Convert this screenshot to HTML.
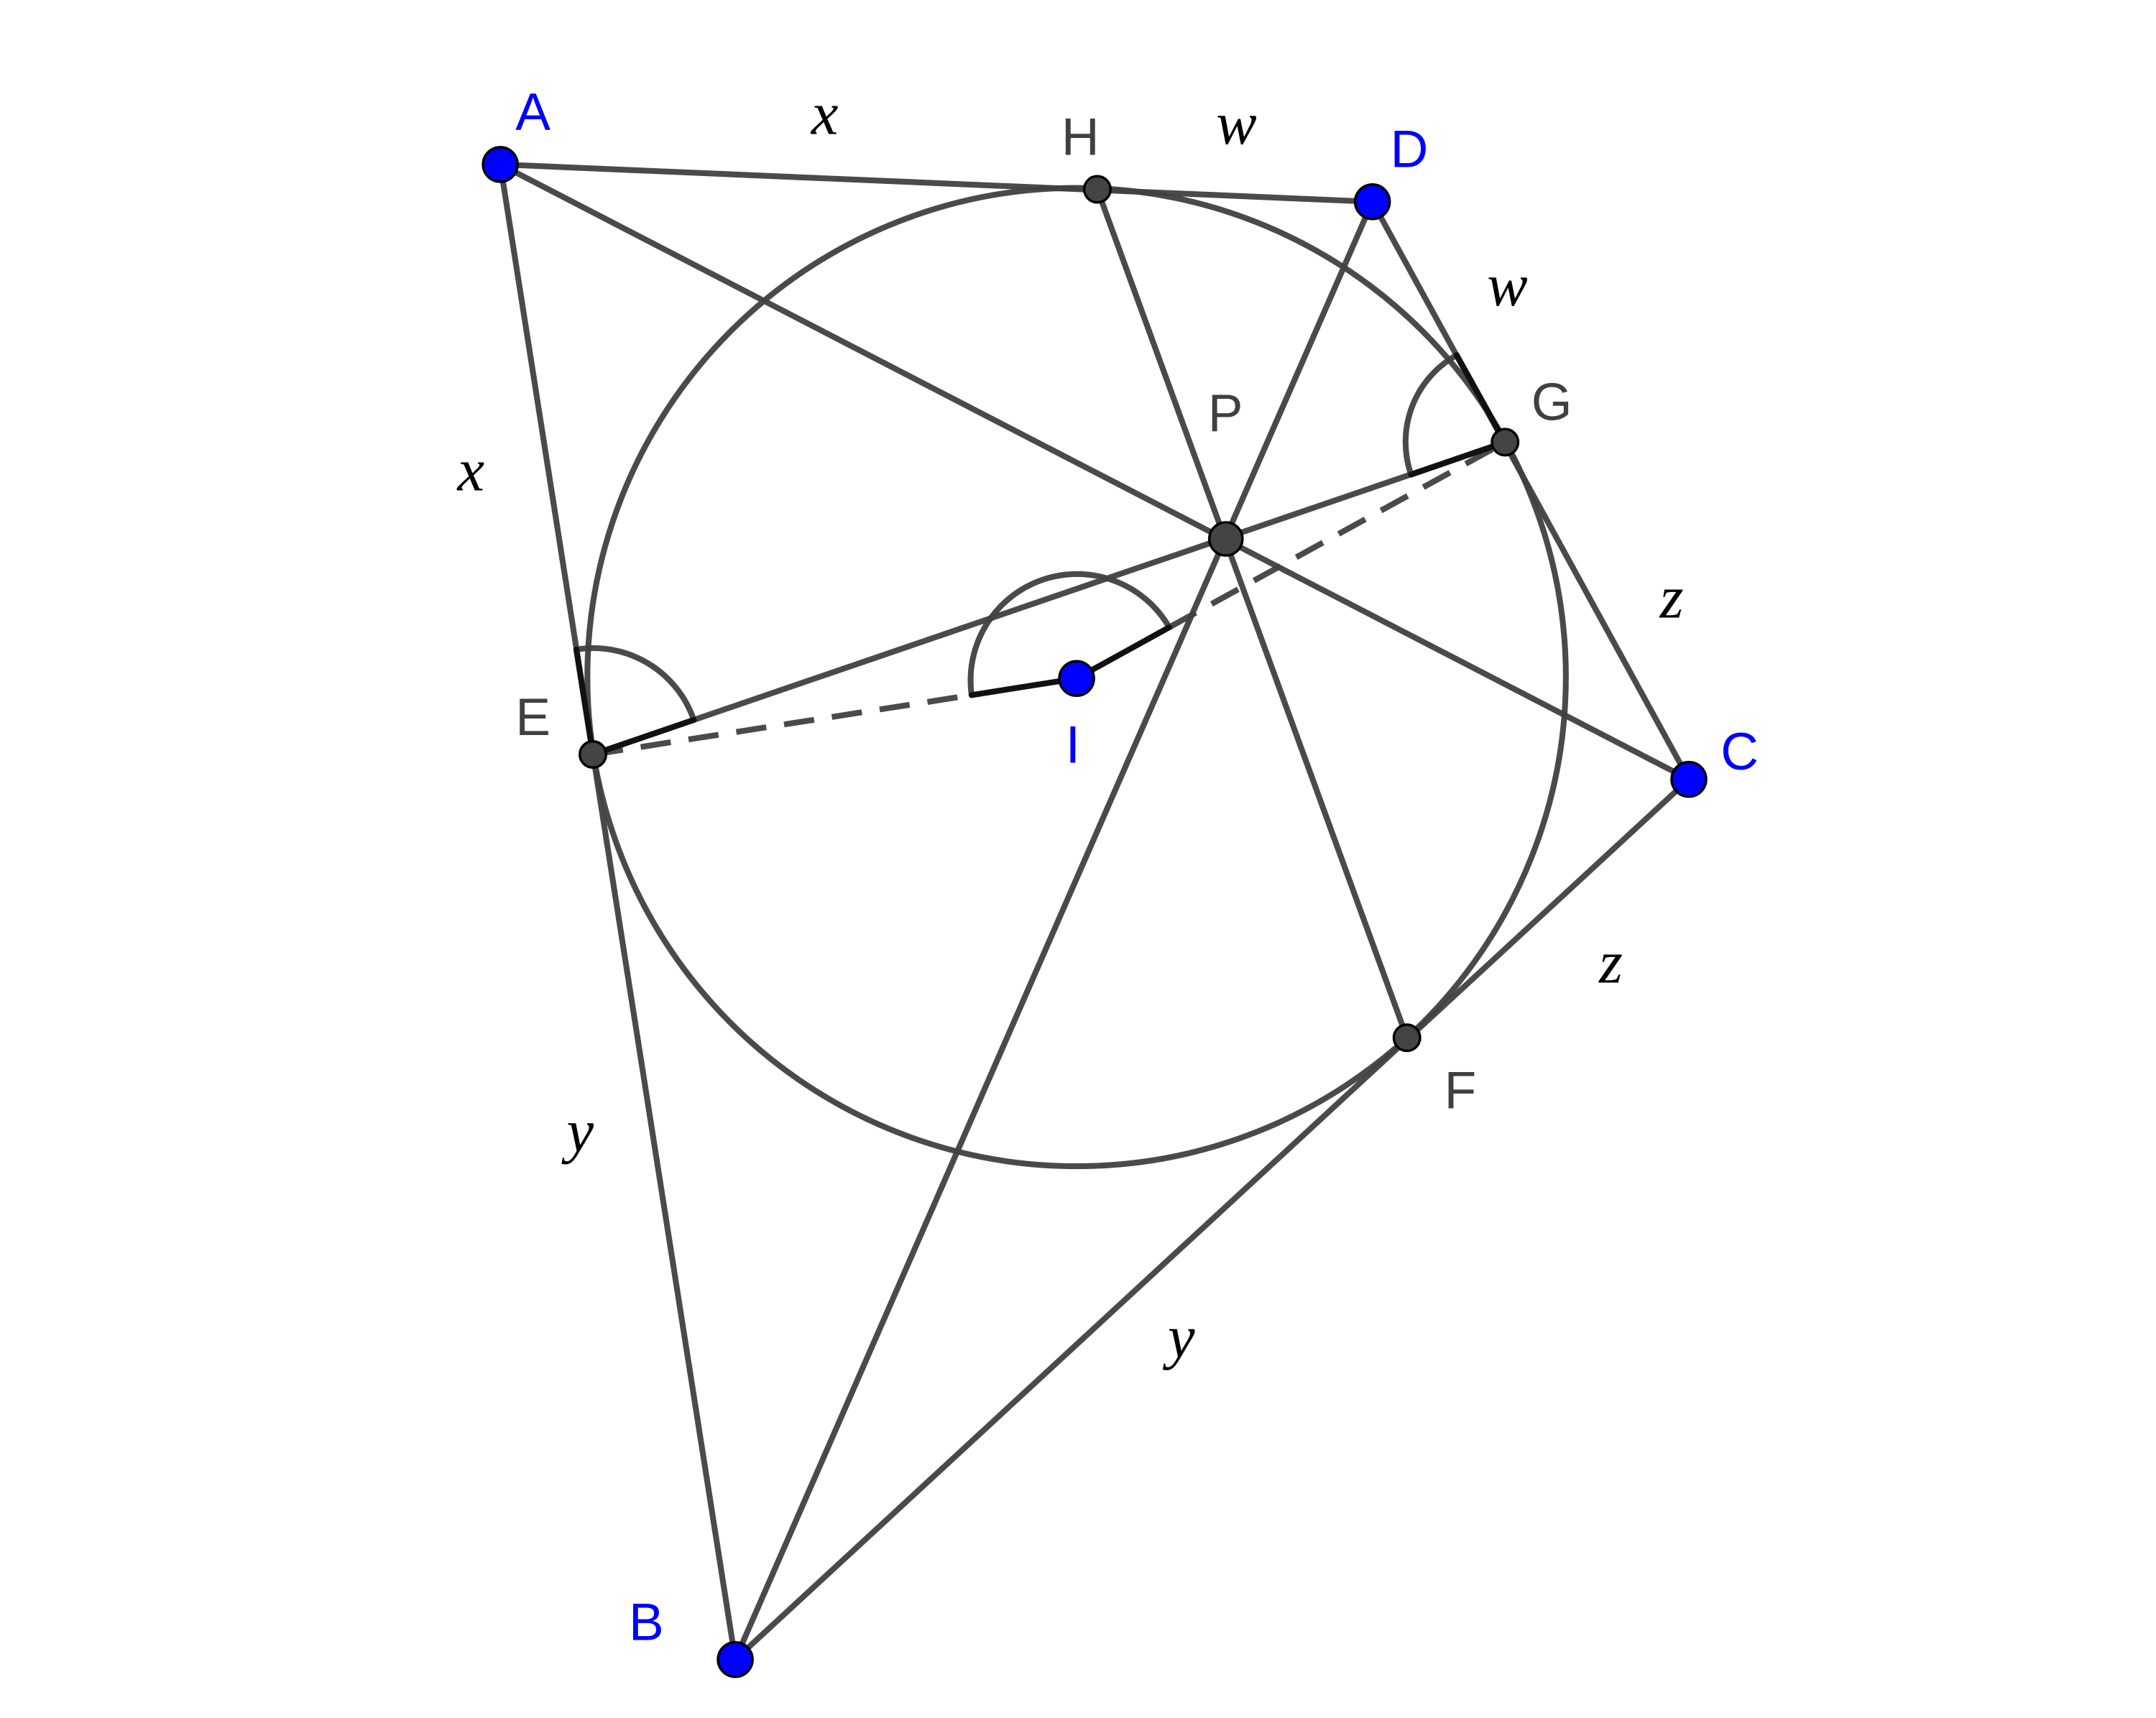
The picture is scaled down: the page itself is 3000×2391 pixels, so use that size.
<!DOCTYPE html>
<html><head><meta charset="utf-8"><style>
html,body{margin:0;padding:0;background:#fff;}
svg{display:block;}
</style></head><body>
<svg width="3000" height="2391" viewBox="0 0 1560 1243.3" xmlns="http://www.w3.org/2000/svg">
<rect width="1560" height="1243.3" fill="#fff"/>
<g stroke="#404040" stroke-opacity="0.95" stroke-width="4.2" fill="none" stroke-linecap="round">
  <circle cx="779" cy="490" r="354"/>
  <line x1="362" y1="119" x2="993" y2="146"/>
  <line x1="993" y1="146" x2="1222" y2="564"/>
  <line x1="362" y1="119" x2="532" y2="1201"/>
  <line x1="532" y1="1201" x2="1222" y2="564"/>
  <line x1="362" y1="119" x2="1222" y2="564"/>
  <line x1="532" y1="1201" x2="993" y2="146"/>
  <line x1="794" y1="137" x2="1018" y2="751"/>
  <line x1="429" y1="546" x2="1089" y2="320"/>
  <line x1="429" y1="546" x2="703" y2="503" stroke-dasharray="22,13" stroke-linecap="butt"/>
  <line x1="846" y1="454" x2="1089" y2="320" stroke-dasharray="22,13" stroke-linecap="butt"/>
  <path d="M 417 470 A 77 77 0 0 1 502 521"/>
  <path d="M 703 503 A 77 77 0 0 1 846 454"/>
  <path d="M 1054 257 A 72 72 0 0 0 1021 343.5"/>
</g>
<g stroke="#111" stroke-width="4.2" stroke-linecap="round" fill="none">
  <line x1="779" y1="491" x2="703" y2="503"/>
  <line x1="779" y1="491" x2="846" y2="454"/>
  <line x1="429" y1="546" x2="417" y2="470"/>
  <line x1="429" y1="546" x2="502" y2="521"/>
  <line x1="1089" y1="320" x2="1054" y2="257"/>
  <line x1="1089" y1="320" x2="1021" y2="343.5"/>
</g>
<g stroke="#000" stroke-width="1.8">
  <circle cx="794" cy="137" r="9.5" fill="#444"/>
  <circle cx="1089" cy="320" r="9.5" fill="#444"/>
  <circle cx="429" cy="546" r="9.5" fill="#444"/>
  <circle cx="1018" cy="751" r="9.5" fill="#444"/>
  <circle cx="887" cy="390" r="12" fill="#444"/>
  <circle cx="362" cy="119" r="12.5" fill="#0000ff"/>
  <circle cx="993" cy="146" r="12.5" fill="#0000ff"/>
  <circle cx="1222" cy="564" r="12.5" fill="#0000ff"/>
  <circle cx="532" cy="1201" r="12.5" fill="#0000ff"/>
  <circle cx="779" cy="491" r="12.5" fill="#0000ff"/>
</g>
<g font-family="Liberation Sans, sans-serif" font-size="38">
  <text x="373" y="94" fill="#0000ff">A</text>
  <text x="1006" y="121" fill="#0000ff">D</text>
  <text x="1245" y="557" fill="#0000ff">C</text>
  <text x="455" y="1187" fill="#0000ff">B</text>
  <text x="771" y="552" fill="#0000ff">I</text>
  <text x="768" y="112" fill="#404040">H</text>
  <text x="1108" y="304" fill="#404040">G</text>
  <text x="874" y="312" fill="#404040">P</text>
  <text x="373" y="532" fill="#404040">E</text>
  <text x="1045" y="802" fill="#404040">F</text>
</g>
<g font-family="Liberation Serif, serif" font-style="italic" font-size="44" fill="#000">
  <text x="587" y="97">x</text>
  <text x="331" y="355">x</text>
  <text x="880" y="104">w</text>
  <text x="1076" y="221">w</text>
  <text x="1201" y="447">z</text>
  <text x="1157" y="711">z</text>
  <text x="410" y="833">y</text>
  <text x="845" y="982">y</text>
</g>
</svg>
</body></html>
